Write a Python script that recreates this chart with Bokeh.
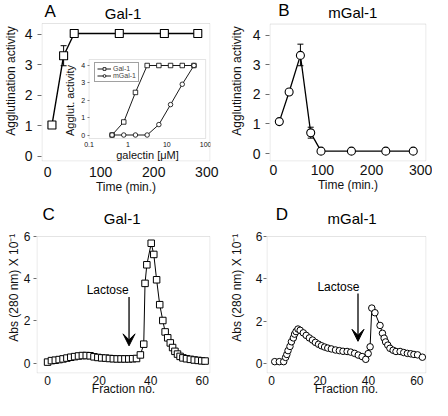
import math
from bokeh.plotting import figure
from bokeh.layouts import row, column
from bokeh.models import (ColumnDataSource, Range1d, LogScale, LinearAxis, LogAxis, FixedTicker,
                          Whisker, TeeHead, Arrow, VeeHead, Label, Legend, LegendItem,
                          BoxAnnotation, CustomJSTickFormatter)
from bokeh.embed import file_html
from bokeh.resources import INLINE

FONT = "Liberation Sans"

# ---------------- data ----------------
# Panel A: Gal-1 agglutination vs time
a_time = [8, 30, 50, 135, 220, 283]
a_act = [1.02, 3.30, 4.03, 4.03, 4.03, 4.03]
a_err_time = [30]
a_err_low = [2.97]
a_err_high = [3.63]

# Inset of A: agglutination vs galectin concentration
inset_conc = [0.39, 0.78, 1.56, 3.125, 6.25, 12.5, 25, 50]
inset_gal1 = [0, 0.75, 2.45, 4, 4, 4, 4, 4]
inset_mgal1 = [0, 0, 0, 0, 0.6, 1.75, 2.92, 4]
inset_xticks = [0.1, 1, 10, 100]
inset_yticks = [0, 1, 2, 3, 4]

# Panel B: mGal-1 agglutination vs time
b_time = [12, 32, 55, 76, 97, 159, 229, 285]
b_act = [1.08, 2.08, 3.32, 0.70, 0.08, 0.08, 0.08, 0.08]
b_err_time = [55, 76]
b_err_low = [2.97, 0.52]
b_err_high = [3.70, 0.89]

# Panel C: Gal-1 elution profile
c_frac = [0, 1.5, 3, 4.5, 6, 7.5, 9, 10.5, 12, 13.5, 15, 16.5, 18, 19.5, 21, 22.5, 24, 25.5,
          27, 28.5, 30, 31.5, 33, 34.5, 36.0, 37.3, 37.8, 38.5, 40.2, 41.2, 42.3, 43.5, 44.7,
          45.6, 46.6, 47.6, 48.5, 49.4, 50.4, 51.4, 52.5, 53.9, 55.4, 56.9, 58.4, 59.8, 61.1]
c_abs = [0.05, 0.12, 0.14, 0.17, 0.20, 0.24, 0.28, 0.31, 0.34, 0.36, 0.36, 0.35, 0.30, 0.27,
         0.25, 0.24, 0.22, 0.21, 0.20, 0.20, 0.20, 0.20, 0.21, 0.22, 0.39, 0.90, 3.78, 4.66,
         5.68, 5.15, 3.95, 2.77, 2.02, 1.48, 1.20, 0.96, 0.74, 0.56, 0.43, 0.32, 0.25, 0.21,
         0.18, 0.15, 0.13, 0.11, 0.10]

# Panel D: mGal-1 elution profile
d_frac = [1.3, 3.2, 5.0, 5.8, 6.3, 6.8, 7.6, 8.2, 9.0, 9.5, 10.1, 10.9, 11.8, 13.1, 14.3, 15.6,
          16.9, 18.1, 19.4, 20.6, 21.9, 23.2, 24.7, 26.4, 28.0, 29.5, 31.2, 32.7, 34.3, 35.8,
          37.4, 38.9, 39.9, 40.7, 41.4, 42.7, 44.8, 45.8, 46.5, 47.1, 48.0, 48.9, 50.2, 51.4,
          53.1, 54.6, 56.1, 57.5, 58.8, 60.3, 62.3]
d_abs = [0.09, 0.09, 0.09, 0.29, 0.43, 0.61, 0.81, 1.03, 1.21, 1.39, 1.51, 1.63, 1.57, 1.45,
         1.33, 1.21, 1.11, 1.00, 0.91, 0.84, 0.78, 0.73, 0.69, 0.64, 0.61, 0.58, 0.57, 0.54,
         0.48, 0.40, 0.33, 0.20, 0.47, 0.79, 2.62, 2.40, 1.80, 1.43, 1.20, 1.02, 0.87, 0.72,
         0.63, 0.57, 0.57, 0.52, 0.48, 0.46, 0.43, 0.41, 0.30]

time_ticks = [0, 100, 200, 300]
act_ticks = [0, 1, 2, 3, 4]
frac_ticks = [0, 20, 40, 60]
abs_ticks = [0, 2, 4, 6]


# ---------------- panel helper ----------------
class Panel:
    """A figure whose frame reaches the canvas top; the visible box is drawn as an annotation."""

    def __init__(self, W, H, L, R, B, box_top_px, xr, y_bot, box_top_val):
        self.L, self.fw = L, W - L - R
        self.fh = H - B
        self.xr = xr
        upp = (box_top_val - y_bot) / (self.fh - box_top_px)
        self.y0, self.y1 = y_bot, box_top_val + box_top_px * upp
        self.box_top_val = box_top_val
        p = figure(width=W, height=H, x_range=Range1d(*xr), y_range=Range1d(self.y0, self.y1),
                   output_backend="svg", toolbar_location=None, tools="",
                   min_border_left=L, min_border_right=R, min_border_top=0, min_border_bottom=B)
        p.xgrid.visible = False
        p.ygrid.visible = False
        p.outline_line_color = None
        p.background_fill_color = "white"
        p.border_fill_color = "white"
        self.p = p
        # visible frame box (half a pixel inside the frame so that it is not clipped)
        dx = 0.5 * (xr[1] - xr[0]) / self.fw
        dy = 0.5 * (self.y1 - self.y0) / self.fh
        p.add_layout(BoxAnnotation(left=xr[0] + dx, right=xr[1] - dx, bottom=y_bot + dy,
                                   top=box_top_val, fill_alpha=0, line_color="#a4a4a4",
                                   line_width=1, level="underlay"))

    def x(self, px):
        return self.xr[0] + (px - self.L) / self.fw * (self.xr[1] - self.xr[0])

    def y(self, py):
        return self.y1 - py / self.fh * (self.y1 - self.y0)


def style_axes(P, xticks, yticks, xlabel, ylabel, tick_fs, x_std, xl_std, ytick_out, y_std, yl_std):
    p = P.p
    for ax in p.xaxis:
        ax.ticker = FixedTicker(ticks=xticks)
        ax.axis_label = xlabel
        ax.axis_line_color = None
        ax.major_tick_out = 0
        ax.major_tick_in = 0
        ax.minor_tick_out = 0
        ax.minor_tick_in = 0
        ax.major_label_text_font = FONT
        ax.major_label_text_font_size = tick_fs
        ax.major_label_text_color = "#111111"
        ax.major_label_standoff = x_std
        ax.axis_label_text_font = FONT
        ax.axis_label_text_font_size = "12px"
        ax.axis_label_text_font_style = "normal"
        ax.axis_label_text_color = "#111111"
        ax.axis_label_standoff = xl_std
    for ax in p.yaxis:
        ax.ticker = FixedTicker(ticks=yticks)
        ax.bounds = (P.y0, P.box_top_val)
        ax.axis_label = ylabel
        ax.axis_line_color = None
        ax.major_tick_out = ytick_out
        ax.major_tick_in = 0
        ax.major_tick_line_color = "#6e6e6e"
        ax.minor_tick_out = 0
        ax.minor_tick_in = 0
        ax.major_label_text_font = FONT
        ax.major_label_text_font_size = tick_fs
        ax.major_label_text_color = "#111111"
        ax.major_label_standoff = y_std
        ax.axis_label_text_font = FONT
        ax.axis_label_text_font_size = "12px"
        ax.axis_label_text_font_style = "normal"
        ax.axis_label_text_color = "#111111"
        ax.axis_label_standoff = yl_std


def add_titles(P, letter, name, lx, ly, nx, ny):
    P.p.add_layout(Label(x=P.x(lx), y=P.y(ly), text=letter, text_font=FONT,
                         text_font_size="17px", text_align="left", text_baseline="middle",
                         text_color="black"))
    P.p.add_layout(Label(x=P.x(nx), y=P.y(ny), text=name, text_font=FONT,
                         text_font_size="15px", text_align="center", text_baseline="middle",
                         text_color="black"))


def add_whisker(p, xs, lo, hi):
    src = ColumnDataSource(dict(x=xs, lo=lo, hi=hi))
    p.add_layout(Whisker(source=src, base="x", lower="lo", upper="hi", line_color="black",
                         line_width=1,
                         upper_head=TeeHead(size=6, line_color="black", line_width=1),
                         lower_head=TeeHead(size=6, line_color="black", line_width=1)))


def add_lactose(p, tx, ty, ax, ay0, ay1):
    p.add_layout(Label(x=tx, y=ty, text="Lactose", text_font=FONT, text_font_size="12px",
                       text_align="center", text_baseline="middle", text_color="black"))
    p.add_layout(Arrow(x_start=ax, y_start=ay0, x_end=ax, y_end=ay1, line_color="black",
                       line_width=1.3,
                       end=VeeHead(size=12, fill_color="black", line_color="black", line_width=1)))


# ---------------- Panel A ----------------
PA = Panel(226, 198, 36, 16, 37, 23, (-11.7, 307), -0.18, 4.36)
pA = PA.p
style_axes(PA, time_ticks, act_ticks, "Time (min.)", "Agglutination activity", "14px", 5, 0, 4, 5, 4)
add_whisker(pA, a_err_time, a_err_low, a_err_high)
pA.line(a_time, a_act, line_color="black", line_width=1.4)
pA.scatter(a_time, a_act, marker="square", size=8, fill_color="white", line_color="black",
           line_width=1.1)

# inset: pixel box of the inset inside panel A and its value mapping
ins_left, ins_right, ins_top, ins_bot = 85, 205, 59, 138
ins_y4, ins_y0 = 65, 134.5
dec_per_px = 3.0 / (ins_right - ins_left)
ix_lo = 10 ** (-1 - (ins_left - PA.L) * dec_per_px)
ix_hi = 10 ** (2 + (PA.L + PA.fw - ins_right) * dec_per_px)
u_per_px = 4.0 / (ins_y0 - ins_y4)
iy_hi = 4 + ins_y4 * u_per_px
iy_lo = -(PA.fh - ins_y0) * u_per_px
inset_top_val = 4 + (ins_y4 - ins_top) * u_per_px
inset_bot_val = -(ins_bot - ins_y0) * u_per_px

pA.extra_x_ranges = {"ix": Range1d(ix_lo, ix_hi)}
pA.extra_x_scales = {"ix": LogScale()}
pA.extra_y_ranges = {"iy": Range1d(iy_lo, iy_hi)}
pA.add_layout(BoxAnnotation(left=0.1, right=100, bottom=inset_bot_val, top=inset_top_val,
                            x_range_name="ix", y_range_name="iy", fill_alpha=0,
                            line_color="#a4a4a4", line_width=1, level="underlay"))
ixax = LogAxis(x_range_name="ix", y_range_name="iy", fixed_location=inset_bot_val,
               bounds=(0.1, 100), ticker=FixedTicker(ticks=inset_xticks),
               formatter=CustomJSTickFormatter(code="return String(tick)"),
               axis_label="galectin [μM]")
iyax = LinearAxis(x_range_name="ix", y_range_name="iy", fixed_location=0.1,
                  bounds=(0, 4), ticker=FixedTicker(ticks=inset_yticks),
                  axis_label="Agglut. activity")
for ax in (ixax, iyax):
    ax.axis_line_color = None
    ax.major_tick_in = 0
    ax.minor_tick_in = 0
    ax.minor_tick_out = 0
    ax.major_tick_line_color = "#808080"
    ax.major_label_text_font = FONT
    ax.major_label_text_font_size = "7px"
    ax.major_label_text_color = "#111111"
    ax.axis_label_text_font = FONT
    ax.axis_label_text_font_size = "11px"
    ax.axis_label_text_font_style = "normal"
    ax.axis_label_text_color = "#111111"
ixax.major_tick_out = 0
ixax.major_label_standoff = 3
ixax.axis_label_standoff = -1
iyax.major_tick_out = 2
iyax.major_label_standoff = 2
iyax.axis_label_standoff = 3
pA.add_layout(ixax, "below")
pA.add_layout(iyax, "left")

l1 = pA.line(inset_conc, inset_gal1, x_range_name="ix", y_range_name="iy", line_color="black",
             line_width=0.9)
s1 = pA.scatter(inset_conc, inset_gal1, x_range_name="ix", y_range_name="iy", marker="square",
                size=4.5, fill_color="white", line_color="black", line_width=0.8)
l2 = pA.line(inset_conc, inset_mgal1, x_range_name="ix", y_range_name="iy", line_color="black",
             line_width=0.9)
s2 = pA.scatter(inset_conc, inset_mgal1, x_range_name="ix", y_range_name="iy", marker="circle",
                size=4.5, fill_color="white", line_color="black", line_width=0.8)
leg = Legend(items=[LegendItem(label="Gal-1", renderers=[l1, s1]),
                    LegendItem(label="mGal-1", renderers=[l2, s2])],
             location=(53, 79), label_text_font=FONT, label_text_font_size="7px",
             label_height=7, glyph_height=7, glyph_width=14, label_standoff=2,
             padding=2, spacing=0, margin=0, border_line_color="#444444",
             border_line_width=0.8, background_fill_alpha=1)
pA.add_layout(leg)
add_titles(PA, "A", "Gal-1", 39, 11, 120, 12.7)

# ---------------- Panel B ----------------
PB = Panel(206, 198, 38, 6, 34, 24, (-8, 312), -0.27, 4.38)
pB = PB.p
style_axes(PB, time_ticks, act_ticks, "Time (min.)", "Agglutination activity", "14px", 3, 0, 4, 5, 6)
add_whisker(pB, b_err_time, b_err_low, b_err_high)
pB.line(b_time, b_act, line_color="black", line_width=1.3)
pB.scatter(b_time, b_act, marker="circle", size=8, fill_color="white", line_color="black",
           line_width=1.1)
add_titles(PB, "B", "mGal-1", 47, 10.5, 124, 12.5)

# ---------------- Panel C ----------------
ylab = "Abs  (280 nm) X 10\u207b\u00b9"
PC = Panel(226, 202, 36, 16, 27, 38, (-4.3, 63.2), -0.49, 6.0)
pC = PC.p
style_axes(PC, frac_ticks, abs_ticks, "Fraction no.", ylab, "12px", 2, -6, 3, 3, 0)
pC.line(c_frac, c_abs, line_color="black", line_width=1)
pC.scatter(c_frac, c_abs, marker="square", size=6.5, fill_color="white", line_color="black",
           line_width=1)
add_lactose(pC, 23.3, 3.47, 31.6, 3.13, 0.82)
add_titles(PC, "C", "Gal-1", 42, 16, 121.7, 20)

# ---------------- Panel D ----------------
PD = Panel(206, 202, 38, 6, 27, 38, (-2.1, 64), -0.47, 6.0)
pD = PD.p
style_axes(PD, frac_ticks, abs_ticks, "Fraction no.", ylab, "12px", 2, -6, 3, 1, 9)
pD.line(d_frac, d_abs, line_color="black", line_width=1)
pD.scatter(d_frac, d_abs, marker="circle", size=6.5, fill_color="white", line_color="black",
           line_width=1)
add_lactose(pD, 27.6, 3.61, 35.7, 3.31, 1.05)
add_titles(PD, "D", "mGal-1", 47.3, 16, 124.7, 20)

layout = column(row(pA, pB), row(pC, pD))
open("out.html", "w").write(file_html(layout, INLINE))
